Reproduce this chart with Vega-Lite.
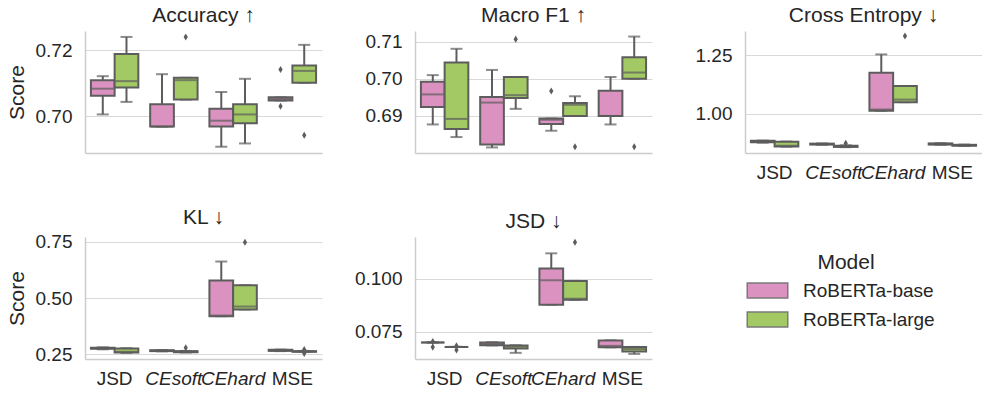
{
  "$schema": "https://vega.github.io/schema/vega-lite/v6.json",
  "padding": {"left": 6, "top": 5, "right": 0, "bottom": 0},
  "background": "white",
  "datasets": {
    "boxes": [
      {"metric": "Accuracy", "cat": "JSD", "model": "RoBERTa-base", "low": 0.7005, "q1": 0.7062, "med": 0.7083, "q3": 0.7109, "high": 0.7121},
      {"metric": "Accuracy", "cat": "JSD", "model": "RoBERTa-large", "low": 0.7043, "q1": 0.7087, "med": 0.7106, "q3": 0.7188, "high": 0.7240},
      {"metric": "Accuracy", "cat": "CEsoft", "model": "RoBERTa-base", "low": 0.6968, "q1": 0.6968, "med": 0.6968, "q3": 0.7036, "high": 0.7127},
      {"metric": "Accuracy", "cat": "CEsoft", "model": "RoBERTa-large", "low": 0.7050, "q1": 0.7050, "med": 0.7109, "q3": 0.7116, "high": 0.7116},
      {"metric": "Accuracy", "cat": "CEhard", "model": "RoBERTa-base", "low": 0.6907, "q1": 0.6968, "med": 0.6986, "q3": 0.7022, "high": 0.7073},
      {"metric": "Accuracy", "cat": "CEhard", "model": "RoBERTa-large", "low": 0.6917, "q1": 0.6978, "med": 0.7005, "q3": 0.7036, "high": 0.7113},
      {"metric": "Accuracy", "cat": "MSE", "model": "RoBERTa-base", "low": 0.7047, "q1": 0.7047, "med": 0.7052, "q3": 0.7057, "high": 0.7057},
      {"metric": "Accuracy", "cat": "MSE", "model": "RoBERTa-large", "low": 0.7101, "q1": 0.7101, "med": 0.7137, "q3": 0.7153, "high": 0.7216},

      {"metric": "MacroF1", "cat": "JSD", "model": "RoBERTa-base", "low": 0.6877, "q1": 0.6924, "med": 0.6958, "q3": 0.6992, "high": 0.7010},
      {"metric": "MacroF1", "cat": "JSD", "model": "RoBERTa-large", "low": 0.6843, "q1": 0.6865, "med": 0.6892, "q3": 0.7044, "high": 0.7081},
      {"metric": "MacroF1", "cat": "CEsoft", "model": "RoBERTa-base", "low": 0.6815, "q1": 0.6823, "med": 0.6936, "q3": 0.6951, "high": 0.7024},
      {"metric": "MacroF1", "cat": "CEsoft", "model": "RoBERTa-large", "low": 0.6919, "q1": 0.6948, "med": 0.6956, "q3": 0.7005, "high": 0.7005},
      {"metric": "MacroF1", "cat": "CEhard", "model": "RoBERTa-base", "low": 0.6860, "q1": 0.6878, "med": 0.6890, "q3": 0.6893, "high": 0.6893},
      {"metric": "MacroF1", "cat": "CEhard", "model": "RoBERTa-large", "low": 0.6900, "q1": 0.6900, "med": 0.6930, "q3": 0.6935, "high": 0.6953},
      {"metric": "MacroF1", "cat": "MSE", "model": "RoBERTa-base", "low": 0.6877, "q1": 0.6900, "med": 0.6900, "q3": 0.6968, "high": 0.7005},
      {"metric": "MacroF1", "cat": "MSE", "model": "RoBERTa-large", "low": 0.7000, "q1": 0.7000, "med": 0.7017, "q3": 0.7058, "high": 0.7114},

      {"metric": "CE", "cat": "JSD", "model": "RoBERTa-base", "low": 0.877, "q1": 0.879, "med": 0.882, "q3": 0.885, "high": 0.886},
      {"metric": "CE", "cat": "JSD", "model": "RoBERTa-large", "low": 0.860, "q1": 0.861, "med": 0.864, "q3": 0.881, "high": 0.882},
      {"metric": "CE", "cat": "CEsoft", "model": "RoBERTa-base", "low": 0.868, "q1": 0.869, "med": 0.871, "q3": 0.873, "high": 0.874},
      {"metric": "CE", "cat": "CEsoft", "model": "RoBERTa-large", "low": 0.858, "q1": 0.859, "med": 0.862, "q3": 0.864, "high": 0.866},
      {"metric": "CE", "cat": "CEhard", "model": "RoBERTa-base", "low": 1.013, "q1": 1.013, "med": 1.019, "q3": 1.176, "high": 1.254},
      {"metric": "CE", "cat": "CEhard", "model": "RoBERTa-large", "low": 1.050, "q1": 1.050, "med": 1.061, "q3": 1.119, "high": 1.119},
      {"metric": "CE", "cat": "MSE", "model": "RoBERTa-base", "low": 0.868, "q1": 0.869, "med": 0.871, "q3": 0.874, "high": 0.875},
      {"metric": "CE", "cat": "MSE", "model": "RoBERTa-large", "low": 0.863, "q1": 0.864, "med": 0.866, "q3": 0.868, "high": 0.869},

      {"metric": "KL", "cat": "JSD", "model": "RoBERTa-base", "low": 0.273, "q1": 0.275, "med": 0.278, "q3": 0.280, "high": 0.282},
      {"metric": "KL", "cat": "JSD", "model": "RoBERTa-large", "low": 0.257, "q1": 0.259, "med": 0.262, "q3": 0.277, "high": 0.278},
      {"metric": "KL", "cat": "CEsoft", "model": "RoBERTa-base", "low": 0.264, "q1": 0.265, "med": 0.267, "q3": 0.269, "high": 0.270},
      {"metric": "KL", "cat": "CEsoft", "model": "RoBERTa-large", "low": 0.259, "q1": 0.260, "med": 0.262, "q3": 0.265, "high": 0.266},
      {"metric": "KL", "cat": "CEhard", "model": "RoBERTa-base", "low": 0.420, "q1": 0.420, "med": 0.423, "q3": 0.579, "high": 0.663},
      {"metric": "KL", "cat": "CEhard", "model": "RoBERTa-large", "low": 0.450, "q1": 0.450, "med": 0.463, "q3": 0.558, "high": 0.558},
      {"metric": "KL", "cat": "MSE", "model": "RoBERTa-base", "low": 0.265, "q1": 0.266, "med": 0.268, "q3": 0.271, "high": 0.272},
      {"metric": "KL", "cat": "MSE", "model": "RoBERTa-large", "low": 0.261, "q1": 0.262, "med": 0.263, "q3": 0.265, "high": 0.266},

      {"metric": "JSDm", "cat": "JSD", "model": "RoBERTa-base", "low": 0.0699, "q1": 0.0699, "med": 0.0699, "q3": 0.0699, "high": 0.0699},
      {"metric": "JSDm", "cat": "JSD", "model": "RoBERTa-large", "low": 0.0678, "q1": 0.0678, "med": 0.0678, "q3": 0.0678, "high": 0.0678},
      {"metric": "JSDm", "cat": "CEsoft", "model": "RoBERTa-base", "low": 0.0685, "q1": 0.0686, "med": 0.0692, "q3": 0.0699, "high": 0.0700},
      {"metric": "JSDm", "cat": "CEsoft", "model": "RoBERTa-large", "low": 0.0650, "q1": 0.0670, "med": 0.0680, "q3": 0.0685, "high": 0.0686},
      {"metric": "JSDm", "cat": "CEhard", "model": "RoBERTa-base", "low": 0.0877, "q1": 0.0877, "med": 0.0992, "q3": 0.1048, "high": 0.1119},
      {"metric": "JSDm", "cat": "CEhard", "model": "RoBERTa-large", "low": 0.0900, "q1": 0.0900, "med": 0.0905, "q3": 0.0989, "high": 0.0989},
      {"metric": "JSDm", "cat": "MSE", "model": "RoBERTa-base", "low": 0.0676, "q1": 0.0676, "med": 0.0683, "q3": 0.0708, "high": 0.0709},
      {"metric": "JSDm", "cat": "MSE", "model": "RoBERTa-large", "low": 0.0645, "q1": 0.0656, "med": 0.0668, "q3": 0.0678, "high": 0.0678}
    ],
    "outliers": [
      {"metric": "Accuracy", "cat": "CEsoft", "model": "RoBERTa-large", "value": 0.7240},
      {"metric": "Accuracy", "cat": "MSE", "model": "RoBERTa-base", "value": 0.7141},
      {"metric": "Accuracy", "cat": "MSE", "model": "RoBERTa-base", "value": 0.7030},
      {"metric": "Accuracy", "cat": "MSE", "model": "RoBERTa-large", "value": 0.6942},
      {"metric": "MacroF1", "cat": "CEsoft", "model": "RoBERTa-large", "value": 0.7107},
      {"metric": "MacroF1", "cat": "CEhard", "model": "RoBERTa-base", "value": 0.6967},
      {"metric": "MacroF1", "cat": "CEhard", "model": "RoBERTa-large", "value": 0.6817},
      {"metric": "MacroF1", "cat": "MSE", "model": "RoBERTa-large", "value": 0.6817},
      {"metric": "CE", "cat": "CEsoft", "model": "RoBERTa-large", "value": 0.875},
      {"metric": "CE", "cat": "CEhard", "model": "RoBERTa-large", "value": 1.333},
      {"metric": "KL", "cat": "CEsoft", "model": "RoBERTa-large", "value": 0.280},
      {"metric": "KL", "cat": "CEhard", "model": "RoBERTa-large", "value": 0.749},
      {"metric": "KL", "cat": "MSE", "model": "RoBERTa-large", "value": 0.272},
      {"metric": "KL", "cat": "MSE", "model": "RoBERTa-large", "value": 0.255},
      {"metric": "JSDm", "cat": "JSD", "model": "RoBERTa-base", "value": 0.0703},
      {"metric": "JSDm", "cat": "JSD", "model": "RoBERTa-base", "value": 0.0677},
      {"metric": "JSDm", "cat": "JSD", "model": "RoBERTa-large", "value": 0.0683},
      {"metric": "JSDm", "cat": "JSD", "model": "RoBERTa-large", "value": 0.0664},
      {"metric": "JSDm", "cat": "CEhard", "model": "RoBERTa-large", "value": 0.1171}
    ]
  },
  "columns": 3,
  "spacing": {"row": 84, "column": 93},
  "bounds": "flush",
  "concat": [
    {
      "width": 237, "height": 122,
      "title": "Accuracy  ↑",
      "layer": [
        {
          "data": {"name": "boxes"},
          "transform": [{"filter": "datum.metric == 'Accuracy'"}],
          "encoding": {
            "x": {"field": "cat", "type": "nominal", "sort": ["JSD", "CEsoft", "CEhard", "MSE"], "scale": {"paddingInner": 0.2, "paddingOuter": 0.1}, "title": null, "axis": {"labels": false}},
            "xOffset": {"field": "model", "type": "nominal", "scale": {"paddingInner": 0, "paddingOuter": 0}}
          },
          "layer": [
            {"mark": {"type": "rule", "color": "#5d5d5d", "strokeWidth": 2}, "encoding": {"y": {"field": "low", "type": "quantitative", "title": "Score", "scale": {"domain": [0.6888, 0.7258], "nice": false, "zero": false}, "axis": {"values": [0.70, 0.72], "format": ".2f"}}, "y2": {"field": "q1"}}},
            {"mark": {"type": "rule", "color": "#5d5d5d", "strokeWidth": 2}, "encoding": {"y": {"field": "q3", "type": "quantitative", "title": "Score"}, "y2": {"field": "high"}}},
            {"mark": {"type": "tick", "color": "#5d5d5d", "thickness": 2, "size": 12}, "encoding": {"y": {"field": "low", "type": "quantitative", "title": "Score"}}},
            {"mark": {"type": "tick", "color": "#5d5d5d", "thickness": 2, "size": 12}, "encoding": {"y": {"field": "high", "type": "quantitative", "title": "Score"}}},
            {"mark": {"type": "bar", "stroke": "#5d5d5d", "strokeWidth": 2, "opacity": 1}, "encoding": {"y": {"field": "q1", "type": "quantitative", "title": "Score"}, "y2": {"field": "q3"}, "color": {"field": "model", "type": "nominal", "title": "Model", "scale": {"domain": ["RoBERTa-base", "RoBERTa-large"], "range": ["#dc92c0", "#a2c964"]}}}},
            {"mark": {"type": "tick", "color": "#5d5d5d", "thickness": 2, "size": 22}, "encoding": {"y": {"field": "med", "type": "quantitative", "title": "Score"}}}
          ]
        },
        {
          "data": {"name": "outliers"},
          "transform": [{"filter": "datum.metric == 'Accuracy'"}],
          "mark": {"type": "point", "shape": "M0,-1L0.6,0L0,1L-0.6,0Z", "filled": true, "color": "#5d5d5d", "size": 50, "opacity": 1},
          "encoding": {
            "x": {"field": "cat", "type": "nominal", "sort": ["JSD", "CEsoft", "CEhard", "MSE"], "title": null},
            "xOffset": {"field": "model", "type": "nominal"},
            "y": {"field": "value", "type": "quantitative", "title": "Score"}
          }
        }
      ]
    },
    {
      "width": 237, "height": 122,
      "title": "Macro F1  ↑",
      "layer": [
        {
          "data": {"name": "boxes"},
          "transform": [{"filter": "datum.metric == 'MacroF1'"}],
          "encoding": {
            "x": {"field": "cat", "type": "nominal", "sort": ["JSD", "CEsoft", "CEhard", "MSE"], "scale": {"paddingInner": 0.2, "paddingOuter": 0.1}, "title": null, "axis": {"labels": false}},
            "xOffset": {"field": "model", "type": "nominal", "scale": {"paddingInner": 0, "paddingOuter": 0}}
          },
          "layer": [
            {"mark": {"type": "rule", "color": "#5d5d5d", "strokeWidth": 2}, "encoding": {"y": {"field": "low", "type": "quantitative", "title": null, "scale": {"domain": [0.680, 0.7129], "nice": false, "zero": false}, "axis": {"values": [0.69, 0.70, 0.71], "format": ".2f"}}, "y2": {"field": "q1"}}},
            {"mark": {"type": "rule", "color": "#5d5d5d", "strokeWidth": 2}, "encoding": {"y": {"field": "q3", "type": "quantitative", "title": null}, "y2": {"field": "high"}}},
            {"mark": {"type": "tick", "color": "#5d5d5d", "thickness": 2, "size": 12}, "encoding": {"y": {"field": "low", "type": "quantitative", "title": null}}},
            {"mark": {"type": "tick", "color": "#5d5d5d", "thickness": 2, "size": 12}, "encoding": {"y": {"field": "high", "type": "quantitative", "title": null}}},
            {"mark": {"type": "bar", "stroke": "#5d5d5d", "strokeWidth": 2, "opacity": 1}, "encoding": {"y": {"field": "q1", "type": "quantitative", "title": null}, "y2": {"field": "q3"}, "color": {"field": "model", "type": "nominal", "title": "Model"}}},
            {"mark": {"type": "tick", "color": "#5d5d5d", "thickness": 2, "size": 22}, "encoding": {"y": {"field": "med", "type": "quantitative", "title": null}}}
          ]
        },
        {
          "data": {"name": "outliers"},
          "transform": [{"filter": "datum.metric == 'MacroF1'"}],
          "mark": {"type": "point", "shape": "M0,-1L0.6,0L0,1L-0.6,0Z", "filled": true, "color": "#5d5d5d", "size": 50, "opacity": 1},
          "encoding": {
            "x": {"field": "cat", "type": "nominal", "sort": ["JSD", "CEsoft", "CEhard", "MSE"], "title": null},
            "xOffset": {"field": "model", "type": "nominal"},
            "y": {"field": "value", "type": "quantitative", "title": null}
          }
        }
      ]
    },
    {
      "width": 237, "height": 122,
      "title": "Cross Entropy  ↓",
      "layer": [
        {
          "data": {"name": "boxes"},
          "transform": [{"filter": "datum.metric == 'CE'"}],
          "encoding": {
            "x": {"field": "cat", "type": "nominal", "sort": ["JSD", "CEsoft", "CEhard", "MSE"], "scale": {"paddingInner": 0.2, "paddingOuter": 0.1}, "title": null, "axis": {"labelFontStyle": {"condition": {"test": "datum.value == 'CEsoft' || datum.value == 'CEhard'", "value": "italic"}, "value": "normal"}}},
            "xOffset": {"field": "model", "type": "nominal", "scale": {"paddingInner": 0, "paddingOuter": 0}}
          },
          "layer": [
            {"mark": {"type": "rule", "color": "#5d5d5d", "strokeWidth": 2}, "encoding": {"y": {"field": "low", "type": "quantitative", "title": null, "scale": {"domain": [0.833, 1.354], "nice": false, "zero": false}, "axis": {"values": [1.0, 1.25], "format": ".2f"}}, "y2": {"field": "q1"}}},
            {"mark": {"type": "rule", "color": "#5d5d5d", "strokeWidth": 2}, "encoding": {"y": {"field": "q3", "type": "quantitative", "title": null}, "y2": {"field": "high"}}},
            {"mark": {"type": "tick", "color": "#5d5d5d", "thickness": 2, "size": 12}, "encoding": {"y": {"field": "low", "type": "quantitative", "title": null}}},
            {"mark": {"type": "tick", "color": "#5d5d5d", "thickness": 2, "size": 12}, "encoding": {"y": {"field": "high", "type": "quantitative", "title": null}}},
            {"mark": {"type": "bar", "stroke": "#5d5d5d", "strokeWidth": 2, "opacity": 1}, "encoding": {"y": {"field": "q1", "type": "quantitative", "title": null}, "y2": {"field": "q3"}, "color": {"field": "model", "type": "nominal", "title": "Model"}}},
            {"mark": {"type": "tick", "color": "#5d5d5d", "thickness": 2, "size": 22}, "encoding": {"y": {"field": "med", "type": "quantitative", "title": null}}}
          ]
        },
        {
          "data": {"name": "outliers"},
          "transform": [{"filter": "datum.metric == 'CE'"}],
          "mark": {"type": "point", "shape": "M0,-1L0.6,0L0,1L-0.6,0Z", "filled": true, "color": "#5d5d5d", "size": 50, "opacity": 1},
          "encoding": {
            "x": {"field": "cat", "type": "nominal", "sort": ["JSD", "CEsoft", "CEhard", "MSE"], "title": null},
            "xOffset": {"field": "model", "type": "nominal"},
            "y": {"field": "value", "type": "quantitative", "title": null}
          }
        }
      ]
    },
    {
      "width": 237, "height": 122,
      "title": "KL  ↓",
      "layer": [
        {
          "data": {"name": "boxes"},
          "transform": [{"filter": "datum.metric == 'KL'"}],
          "encoding": {
            "x": {"field": "cat", "type": "nominal", "sort": ["JSD", "CEsoft", "CEhard", "MSE"], "scale": {"paddingInner": 0.2, "paddingOuter": 0.1}, "title": null, "axis": {"labelFontStyle": {"condition": {"test": "datum.value == 'CEsoft' || datum.value == 'CEhard'", "value": "italic"}, "value": "normal"}}},
            "xOffset": {"field": "model", "type": "nominal", "scale": {"paddingInner": 0, "paddingOuter": 0}}
          },
          "layer": [
            {"mark": {"type": "rule", "color": "#5d5d5d", "strokeWidth": 2}, "encoding": {"y": {"field": "low", "type": "quantitative", "title": "Score", "scale": {"domain": [0.230, 0.772], "nice": false, "zero": false}, "axis": {"values": [0.25, 0.5, 0.75], "format": ".2f"}}, "y2": {"field": "q1"}}},
            {"mark": {"type": "rule", "color": "#5d5d5d", "strokeWidth": 2}, "encoding": {"y": {"field": "q3", "type": "quantitative", "title": "Score"}, "y2": {"field": "high"}}},
            {"mark": {"type": "tick", "color": "#5d5d5d", "thickness": 2, "size": 12}, "encoding": {"y": {"field": "low", "type": "quantitative", "title": "Score"}}},
            {"mark": {"type": "tick", "color": "#5d5d5d", "thickness": 2, "size": 12}, "encoding": {"y": {"field": "high", "type": "quantitative", "title": "Score"}}},
            {"mark": {"type": "bar", "stroke": "#5d5d5d", "strokeWidth": 2, "opacity": 1}, "encoding": {"y": {"field": "q1", "type": "quantitative", "title": "Score"}, "y2": {"field": "q3"}, "color": {"field": "model", "type": "nominal", "title": "Model"}}},
            {"mark": {"type": "tick", "color": "#5d5d5d", "thickness": 2, "size": 22}, "encoding": {"y": {"field": "med", "type": "quantitative", "title": "Score"}}}
          ]
        },
        {
          "data": {"name": "outliers"},
          "transform": [{"filter": "datum.metric == 'KL'"}],
          "mark": {"type": "point", "shape": "M0,-1L0.6,0L0,1L-0.6,0Z", "filled": true, "color": "#5d5d5d", "size": 50, "opacity": 1},
          "encoding": {
            "x": {"field": "cat", "type": "nominal", "sort": ["JSD", "CEsoft", "CEhard", "MSE"], "title": null},
            "xOffset": {"field": "model", "type": "nominal"},
            "y": {"field": "value", "type": "quantitative", "title": "Score"}
          }
        }
      ]
    },
    {
      "width": 237, "height": 122,
      "title": "JSD  ↓",
      "layer": [
        {
          "data": {"name": "boxes"},
          "transform": [{"filter": "datum.metric == 'JSDm'"}],
          "encoding": {
            "x": {"field": "cat", "type": "nominal", "sort": ["JSD", "CEsoft", "CEhard", "MSE"], "scale": {"paddingInner": 0.2, "paddingOuter": 0.1}, "title": null, "axis": {"labelFontStyle": {"condition": {"test": "datum.value == 'CEsoft' || datum.value == 'CEhard'", "value": "italic"}, "value": "normal"}}},
            "xOffset": {"field": "model", "type": "nominal", "scale": {"paddingInner": 0, "paddingOuter": 0}}
          },
          "layer": [
            {"mark": {"type": "rule", "color": "#5d5d5d", "strokeWidth": 2}, "encoding": {"y": {"field": "low", "type": "quantitative", "title": null, "scale": {"domain": [0.0621, 0.1196], "nice": false, "zero": false}, "axis": {"values": [0.075, 0.1], "format": ".3f"}}, "y2": {"field": "q1"}}},
            {"mark": {"type": "rule", "color": "#5d5d5d", "strokeWidth": 2}, "encoding": {"y": {"field": "q3", "type": "quantitative", "title": null}, "y2": {"field": "high"}}},
            {"mark": {"type": "tick", "color": "#5d5d5d", "thickness": 2, "size": 12}, "encoding": {"y": {"field": "low", "type": "quantitative", "title": null}}},
            {"mark": {"type": "tick", "color": "#5d5d5d", "thickness": 2, "size": 12}, "encoding": {"y": {"field": "high", "type": "quantitative", "title": null}}},
            {"mark": {"type": "bar", "stroke": "#5d5d5d", "strokeWidth": 2, "opacity": 1}, "encoding": {"y": {"field": "q1", "type": "quantitative", "title": null}, "y2": {"field": "q3"}, "color": {"field": "model", "type": "nominal", "title": "Model"}}},
            {"mark": {"type": "tick", "color": "#5d5d5d", "thickness": 2, "size": 22}, "encoding": {"y": {"field": "med", "type": "quantitative", "title": null}}}
          ]
        },
        {
          "data": {"name": "outliers"},
          "transform": [{"filter": "datum.metric == 'JSDm'"}],
          "mark": {"type": "point", "shape": "M0,-1L0.6,0L0,1L-0.6,0Z", "filled": true, "color": "#5d5d5d", "size": 50, "opacity": 1},
          "encoding": {
            "x": {"field": "cat", "type": "nominal", "sort": ["JSD", "CEsoft", "CEhard", "MSE"], "title": null},
            "xOffset": {"field": "model", "type": "nominal"},
            "y": {"field": "value", "type": "quantitative", "title": null}
          }
        }
      ]
    }
  ],
  "config": {
    "view": {"stroke": null},
    "font": "Liberation Sans, DejaVu Sans",
    "title": {"font": "Liberation Sans, DejaVu Sans", "fontSize": 21, "fontWeight": "normal", "color": "#262626", "offset": 5},
    "axis": {"domainColor": "#cccccc", "domainWidth": 1.5, "ticks": false, "labelFont": "Liberation Sans", "labelFontSize": 19, "labelColor": "#262626", "titleFont": "Liberation Sans", "titleFontSize": 21, "titleFontWeight": "normal", "titleColor": "#262626", "gridColor": "#d9d9d9", "gridWidth": 1.2},
    "axisX": {"grid": false, "labelPadding": 10, "labelAngle": 0},
    "axisY": {"grid": true, "labelPadding": 13, "titlePadding": 8},
    "legend": {
      "orient": "none", "legendX": 673, "legendY": 221,
      "titleFont": "Liberation Sans", "titleFontSize": 21, "titleFontWeight": "normal", "titleColor": "#262626", "titleAnchor": "middle", "titlePadding": 8,
      "labelFont": "Liberation Sans", "labelFontSize": 19, "labelColor": "#262626", "labelOffset": 26,
      "symbolType": "M-2.7,-1H2.7V1H-2.7Z", "symbolSize": 225, "symbolStrokeColor": "#7a7a7a", "symbolStrokeWidth": 1.5, "symbolOpacity": 1, "rowPadding": 8
    }
  }
}
